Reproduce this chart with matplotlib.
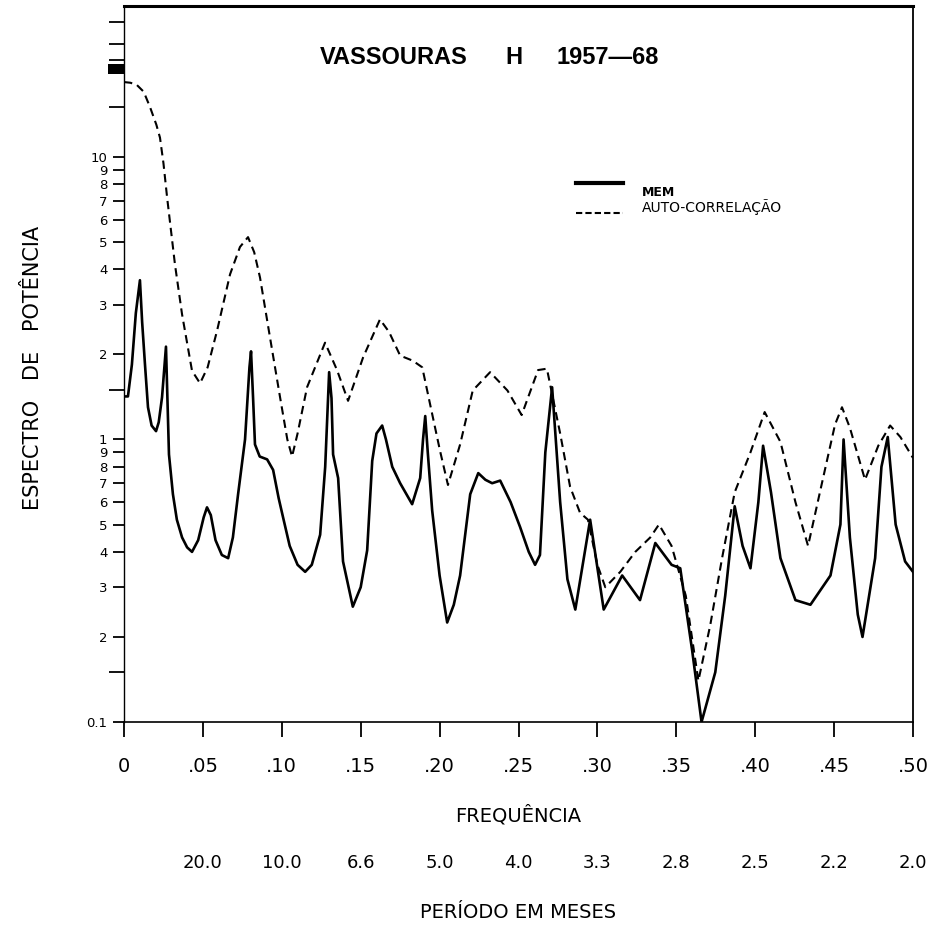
import matplotlib
matplotlib.use("Agg")
import matplotlib.pyplot as plt
from matplotlib.patches import Rectangle
import matplotlib.transforms as mtransforms

# ---------------- data ----------------
freq_ac = [0, 0.004, 0.008, 0.0125, 0.0165, 0.0205, 0.0228, 0.025, 0.0273, 0.0323,
           0.0368, 0.0431, 0.0482, 0.053, 0.059, 0.0672, 0.0735, 0.0786, 0.0825, 0.0862,
           0.0925, 0.0989, 0.1035, 0.1065, 0.11, 0.116, 0.1274, 0.135, 0.142, 0.1515,
           0.1622, 0.168, 0.175, 0.183, 0.189, 0.194, 0.2003, 0.2053, 0.213, 0.221,
           0.232, 0.243, 0.252, 0.2624, 0.268, 0.2764, 0.2827, 0.289, 0.294, 0.3,
           0.305, 0.3145, 0.324, 0.3335, 0.339, 0.347, 0.356, 0.364, 0.3715, 0.379,
           0.387, 0.397, 0.406, 0.416, 0.4255, 0.4335, 0.441, 0.4506, 0.455, 0.46,
           0.4696, 0.478, 0.4855, 0.492, 0.5]
autocorr = [18.4, 18.3, 18.0, 17.0, 15.0, 13.0, 11.7, 9.5, 7.2, 4.16,
            2.77, 1.75, 1.58, 1.8, 2.43, 3.84, 4.8, 5.2, 4.6, 3.74,
            2.3, 1.41, 1.0, 0.87, 1.05, 1.53, 2.2, 1.76, 1.37, 1.95,
            2.66, 2.4, 1.98, 1.9, 1.8, 1.33, 0.91, 0.69, 0.96, 1.49,
            1.73, 1.49, 1.22, 1.76, 1.78, 1.05, 0.68, 0.55, 0.52, 0.36,
            0.3, 0.34, 0.4, 0.45, 0.5, 0.42, 0.28, 0.14, 0.22, 0.38,
            0.65, 0.9, 1.25, 0.98, 0.6, 0.42, 0.65, 1.13, 1.3, 1.1,
            0.72, 0.95, 1.12, 1.02, 0.86]

freq_mem = [0, 0.0025, 0.005, 0.0075, 0.0101, 0.0115, 0.0133, 0.0152, 0.0175, 0.0203,
            0.022, 0.0241, 0.0266, 0.0285, 0.031, 0.0335, 0.0368, 0.040, 0.0431, 0.047,
            0.0505, 0.0526, 0.055, 0.058, 0.062, 0.066, 0.069, 0.0723, 0.0767, 0.0795,
            0.0805, 0.0818, 0.083, 0.086, 0.0907, 0.0945, 0.098, 0.1008, 0.105, 0.11,
            0.1148, 0.119, 0.1243, 0.1275, 0.13, 0.1315, 0.1325, 0.1357, 0.1388, 0.145,
            0.15, 0.1541, 0.1573, 0.160, 0.1636, 0.166, 0.17, 0.175, 0.1826, 0.1877,
            0.1895, 0.1909, 0.1925, 0.1953, 0.2, 0.2048, 0.209, 0.213, 0.2194, 0.2245,
            0.229, 0.2333, 0.2384, 0.245, 0.251, 0.2565, 0.2605, 0.2636, 0.267, 0.2713,
            0.2764, 0.281, 0.286, 0.2954, 0.304, 0.3157, 0.327, 0.3367, 0.347, 0.3525,
            0.36, 0.366, 0.3747, 0.381, 0.387, 0.392, 0.397, 0.402, 0.405, 0.41,
            0.416, 0.4255, 0.435, 0.4477, 0.454, 0.456, 0.46, 0.465, 0.468, 0.476,
            0.48, 0.484, 0.489, 0.495, 0.5]
mem = [1.42, 1.42, 1.84, 2.8, 3.66, 2.6, 1.84, 1.3, 1.12, 1.07,
       1.15, 1.41, 2.13, 0.885, 0.64, 0.52, 0.45, 0.415, 0.40, 0.44,
       0.53, 0.575, 0.54, 0.44, 0.39, 0.38, 0.45, 0.64, 1.0, 1.8,
       2.05, 1.4, 0.96, 0.87, 0.85, 0.78, 0.62, 0.53, 0.42, 0.36,
       0.34, 0.36, 0.46, 0.8, 1.73, 1.4, 0.885, 0.73, 0.37, 0.256,
       0.3, 0.405, 0.84, 1.05, 1.12, 1.0, 0.80, 0.7, 0.59, 0.73,
       1.0, 1.21, 0.9, 0.56, 0.33, 0.225, 0.26, 0.33, 0.64, 0.76,
       0.72, 0.70, 0.715, 0.6, 0.49, 0.4, 0.36, 0.39, 0.9, 1.53,
       0.6, 0.32, 0.25, 0.52, 0.25, 0.33, 0.27, 0.43, 0.36, 0.35,
       0.18, 0.1, 0.15, 0.28, 0.58, 0.42, 0.35, 0.6, 0.95, 0.65,
       0.38, 0.27, 0.26, 0.33, 0.5, 1.0, 0.45, 0.24, 0.2, 0.38,
       0.8, 1.02, 0.5, 0.37, 0.34]

assert len(freq_ac) == len(autocorr)
assert len(freq_mem) == len(mem)

x_ticks = [0, 0.05, 0.10, 0.15, 0.20, 0.25, 0.30, 0.35, 0.40, 0.45, 0.50]
x_ticklabels = ["0", ".05", ".10", ".15", ".20", ".25", ".30", ".35", ".40", ".45", ".50"]
period_pos = [0.05, 0.10, 0.15, 0.20, 0.25, 0.30, 0.35, 0.40, 0.45, 0.50]
period_labels = ["20.0", "10.0", "6.6", "5.0", "4.0", "3.3", "2.8", "2.5", "2.2", "2.0"]

y_major = [0.1, 0.2, 0.3, 0.4, 0.5, 0.6, 0.7, 0.8, 0.9, 1, 2, 3, 4, 5, 6, 7, 8, 9, 10]
y_major_labels = ["0.1", "2", "3", "4", "5", "6", "7", "8", "9",
                  "1", "2", "3", "4", "5", "6", "7", "8", "9", "10"]
y_minor = [0.15, 1.5, 15, 22, 25, 30]

# ---------------- figure ----------------
plt.rcParams['font.family'] = ['DejaVu Sans']
W, H = 950, 926
fig = plt.figure(figsize=(W / 100, H / 100), dpi=100)
ax = fig.add_axes([124 / W, 1 - 722 / H, (913 - 124) / W, (722 - 6) / H])
ax.set_yscale('log')
ax.set_xlim(0, 0.5)
ax.set_ylim(0.1, 34.2)

ax.plot(freq_mem, mem, color='black', lw=1.9, solid_joinstyle='round')
ax.plot(freq_ac, autocorr, color='black', lw=1.5, linestyle=(0, (4, 2.5)))

# ticks
ax.set_yticks(y_major)
ax.set_yticklabels(y_major_labels)
ax.set_yticks(y_minor, minor=True)
ax.yaxis.set_minor_formatter(plt.NullFormatter())
ax.tick_params(axis='y', which='major', direction='out', length=8, width=1.3,
               labelsize=9.5, pad=4)
ax.tick_params(axis='y', which='minor', direction='out', length=11, width=1.3)
ax.set_xticks(x_ticks)
ax.set_xticklabels(x_ticklabels)
ax.tick_params(axis='x', which='major', direction='out', length=11, width=1.3,
               labelsize=14, pad=14)
ax.tick_params(axis='x', which='minor', length=0)

for side, lw in [('top', 2.2), ('left', 1.0), ('right', 1.3), ('bottom', 1.2)]:
    ax.spines[side].set_linewidth(lw)

# black block on the left axis near 20
trans = mtransforms.blended_transform_factory(ax.transAxes, ax.transData)
ax.add_patch(Rectangle((-0.02, 19.6), 0.02, 1.7, transform=trans,
                       facecolor='black', edgecolor='none', clip_on=False))

# legend (manual)
ax.plot([0.573, 0.632], [0.753, 0.753], transform=ax.transAxes, color='black', lw=3)
ax.plot([0.573, 0.632], [0.711, 0.711], transform=ax.transAxes, color='black', lw=1.5,
        linestyle=(0, (3, 1.5)))
ax.text(0.6565, 0.739, "MEM", transform=ax.transAxes, fontsize=9,
        fontweight='bold', va='center', ha='left')
ax.text(0.6565, 0.719, "AUTO-CORRELAÇÃO", transform=ax.transAxes, fontsize=10,
        va='center', ha='left')

# title
ty = 1 - 57 / H
fig.text(320 / W, ty, "VASSOURAS", fontsize=17, fontweight='bold',
         family='Liberation Sans', ha='left', va='center')
fig.text(505 / W, ty, "H", fontsize=17, fontweight='bold',
         family='Liberation Sans', ha='left', va='center')
fig.text(556 / W, ty, "1957\u201468", fontsize=17, fontweight='bold',
         family='Liberation Sans', ha='left', va='center')

# axis labels
fig.text(33 / W, 1 - 368 / H, "ESPECTRO   DE   POTÊNCIA", rotation=90, fontsize=15,
         ha='center', va='center')
tx = mtransforms.blended_transform_factory(ax.transData, fig.transFigure)
for p, lab in zip(period_pos, period_labels):
    ax.text(p, 1 - 863 / H, lab, transform=tx, fontsize=13, ha='center', va='center')
fig.text((124 + 913) / 2 / W, 1 - 815 / H, "FREQUÊNCIA", fontsize=14,
         ha='center', va='center')
fig.text((124 + 913) / 2 / W, 1 - 912 / H, "PERÍODO EM MESES", fontsize=14,
         ha='center', va='center')

fig.savefig("out.png", dpi=100)
